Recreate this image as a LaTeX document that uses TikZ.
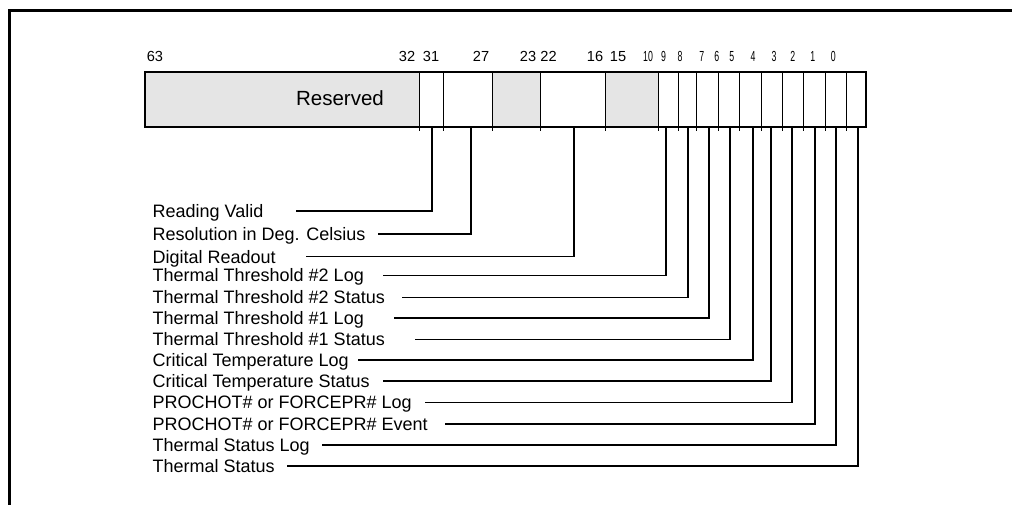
\documentclass[tikz,border=0pt]{standalone}
\usepackage{graphicx}
\usepackage{fontspec}
\setmainfont{Liberation Sans}
\begin{document}
\begin{tikzpicture}[x=1pt,y=-1pt,
  lbl/.style={anchor=base west, inner sep=0pt, font=\fontsize{18}{20}\selectfont},
  hdr/.style={anchor=base, inner sep=0pt, font=\fontsize{14.6}{16}\selectfont},
  hdrs/.style={anchor=base, inner sep=0pt, font=\fontsize{14.6}{16}\selectfont},
  conn/.style={line width=1.4pt},
  divl/.style={line width=0.9pt},
  rsv/.style={fill=black!10},
]
\useasboundingbox (0,0) rectangle (1012,504);
% outer frame (only top and left visible)
\draw[line width=3pt, line join=miter] (9,505) -- (9,10) -- (1013,10);

% register shading
\fill[rsv] (145,72) rectangle (419.3,127);
\fill[rsv] (492.3,72) rectangle (540,127);
\fill[rsv] (605.7,72) rectangle (658,127);

% dividers with short ticks below
\foreach \x in {419.3,443.3,492.3,540,605.7,658,678.7,696.7,718.3,739.3,761.3,782.7,803.3,825,846.7}
  \draw[divl] (\x,72) -- (\x,131);

% bit anchor coordinates
\coordinate (b31) at (432,127);
\coordinate (b27) at (471,127);
\coordinate (b22) at (574,127);
\coordinate (b9) at (666,127);
\coordinate (b8) at (688,127);
\coordinate (b7) at (709,127);
\coordinate (b6) at (730,127);
\coordinate (b5) at (753,127);
\coordinate (b4) at (771,127);
\coordinate (b3) at (792,127);
\coordinate (b2) at (815,127);
\coordinate (b1) at (836,127);
\coordinate (b0) at (858,127);

% register border
\draw[line width=2.4pt] (145,72) rectangle (866,127);

\node[font=\fontsize{20.5}{22}\selectfont, anchor=base, inner sep=0pt] (res) at (340,105.5) {Reserved};

% header bit numbers
\node[hdr] (h63) at (155,61.3) {63};
\node[hdr] (h32) at (407,61.3) {32};
\node[hdr] (h31) at (431,61.3) {31};
\node[hdr] (h27) at (481,61.3) {27};
\node[hdr] (h23) at (528,61.3) {23};
\node[hdr] (h22) at (548.5,61.3) {22};
\node[hdr] (h16) at (595,61.3) {16};
\node[hdr] (h15) at (618,61.3) {15};
\node[hdrs] (h10) at (648,61.3) {\scalebox{0.6}[1]{10}};
\node[hdrs] (h9) at (663.5,61.3) {\scalebox{0.6}[1]{9}};
\node[hdrs] (h8) at (680,61.3) {\scalebox{0.6}[1]{8}};
\node[hdrs] (h7) at (701.7,61.3) {\scalebox{0.6}[1]{7}};
\node[hdrs] (h6) at (716.7,61.3) {\scalebox{0.6}[1]{6}};
\node[hdrs] (h5) at (731.7,61.3) {\scalebox{0.6}[1]{5}};
\node[hdrs] (h4) at (753,61.3) {\scalebox{0.6}[1]{4}};
\node[hdrs] (h3) at (774,61.3) {\scalebox{0.6}[1]{3}};
\node[hdrs] (h2) at (792.7,61.3) {\scalebox{0.6}[1]{2}};
\node[hdrs] (h1) at (812.7,61.3) {\scalebox{0.6}[1]{1}};
\node[hdrs] (h0) at (833.3,61.3) {\scalebox{0.6}[1]{0}};

% field labels
\node[lbl] (l31) at (152.5,217.3) {Reading Valid};
\node[lbl] (l27) at (152.5,240.3) {Resolution in Deg. Celsius};
\node[lbl] (l22) at (152.5,263) {Digital Readout};
\node[lbl] (l9) at (152.5,281.8) {Thermal Threshold \#2 Log};
\node[lbl] (l8) at (152.5,303.6) {Thermal Threshold \#2 Status};
\node[lbl] (l7) at (152.5,324.3) {Thermal Threshold \#1 Log};
\node[lbl] (l6) at (152.5,345.6) {Thermal Threshold \#1 Status};
\node[lbl] (l5) at (152.5,366.3) {Critical Temperature Log};
\node[lbl] (l4) at (152.5,387.3) {Critical Temperature Status};
\node[lbl] (l3) at (152.5,408.8) {PROCHOT\# or FORCEPR\# Log};
\node[lbl] (l2) at (152.5,430.3) {PROCHOT\# or FORCEPR\# Event};
\node[lbl] (l1) at (152.5,451.3) {Thermal Status Log};
\node[lbl] (l0) at (152.5,472.3) {Thermal Status};

% line start coordinates
\coordinate (e31) at (296,211);
\coordinate (e27) at (378,234);
\coordinate (e22) at (306,256.7);
\coordinate (e9) at (383,275.5);
\coordinate (e8) at (402,297.3);
\coordinate (e7) at (394,318);
\coordinate (e6) at (415,339.3);
\coordinate (e5) at (358,360);
\coordinate (e4) at (383,381);
\coordinate (e3) at (425,402.5);
\coordinate (e2) at (445,424);
\coordinate (e1) at (322,445);
\coordinate (e0) at (287,466);

% connectors
\foreach \n in {31,27,22,9,8,7,6,5,4,3,2,1,0}
  \draw[conn, line join=miter] (b\n) |- (e\n);
\end{tikzpicture}
\end{document}
